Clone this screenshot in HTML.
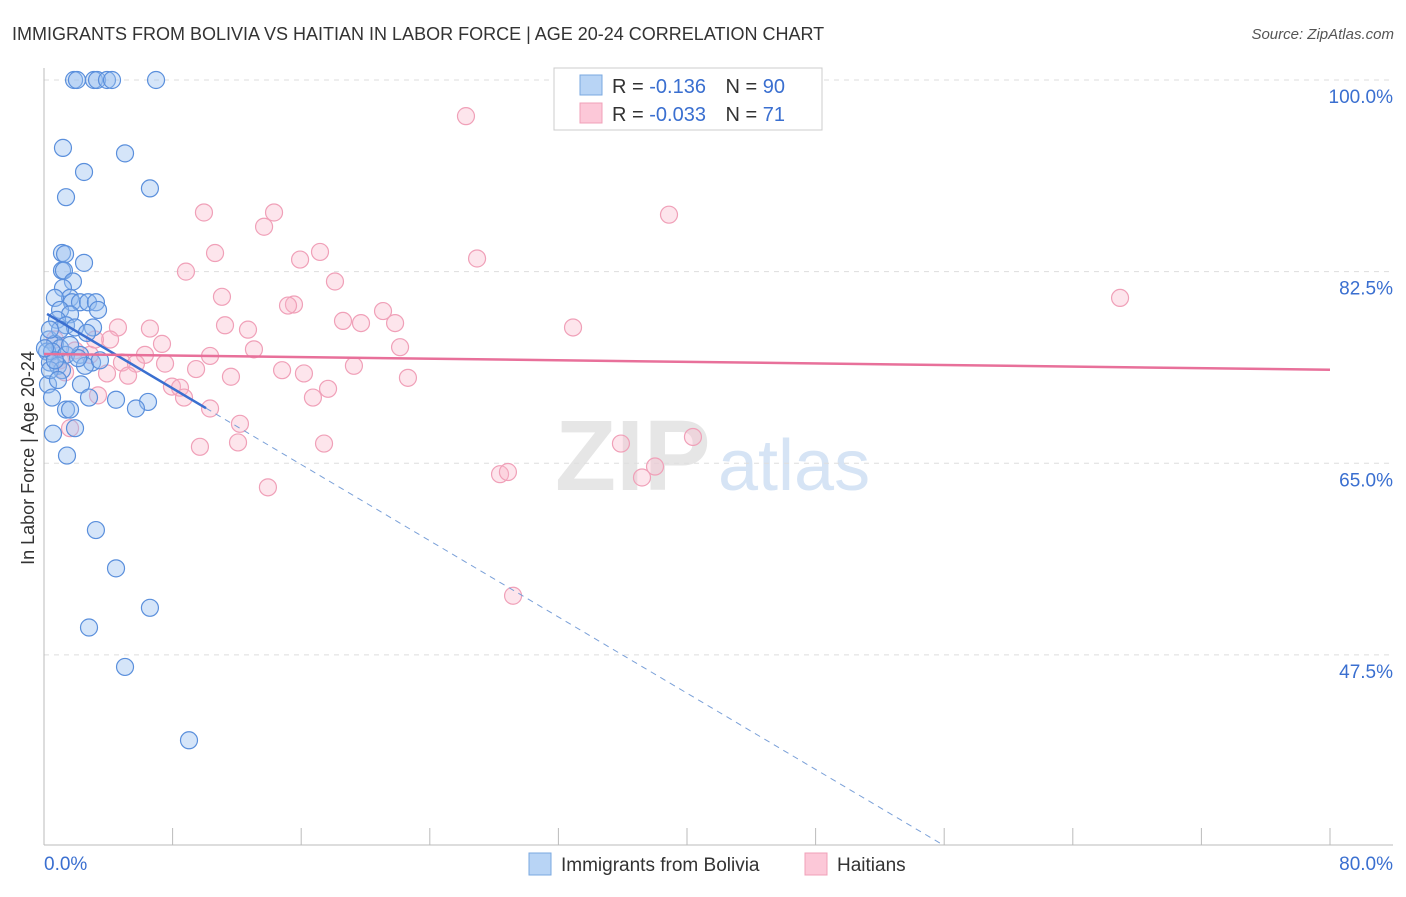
<!DOCTYPE html>
<html><head><meta charset="utf-8"><style>
body{margin:0;background:#fff;font-family:"Liberation Sans",sans-serif}
svg text{font-family:"Liberation Sans",sans-serif}
</style></head><body>
<svg id="c" width="1406" height="892">
<text x="12" y="40" font-size="18" fill="#333">IMMIGRANTS FROM BOLIVIA VS HAITIAN IN LABOR FORCE | AGE 20-24 CORRELATION CHART</text>
<text x="1394" y="39" font-size="15" fill="#555" text-anchor="end" font-style="italic">Source: ZipAtlas.com</text>
<text x="34" y="458" font-size="18" fill="#333" text-anchor="middle" transform="rotate(-90 34 458)">In Labor Force | Age 20-24</text>
<g><text x="555" y="490" font-size="100" fill="#e6e6e6" font-family="Liberation Serif" font-weight="bold">ZIP</text><text x="718" y="490" font-size="72" fill="#d6e4f5">atlas</text></g>
<g id="grid"></g><g id="pts"></g><g id="lines"></g>
<g>
<rect x="554" y="68" width="268" height="62" fill="#fff" stroke="#ccc"/>
<rect x="580" y="75" width="22" height="20" fill="#b8d4f5" stroke="#7aa8e0"/>
<rect x="580" y="103" width="22" height="20" fill="#fcc8d8" stroke="#f0a0b8"/>
<text x="612" y="93" font-size="20" fill="#333">R = <tspan fill="#3a6fd0"> -0.136</tspan>   <tspan fill="#333" dx="14">N = </tspan><tspan fill="#3a6fd0">90</tspan></text>
<text x="612" y="121" font-size="20" fill="#333">R = <tspan fill="#3a6fd0">-0.033</tspan>   <tspan fill="#333" dx="14">N = </tspan><tspan fill="#3a6fd0"> 71</tspan></text>
</g>
<g>
<rect x="529" y="853" width="22" height="22" fill="#b8d4f5" stroke="#7aa8e0"/><text x="561" y="871" font-size="19" fill="#333">Immigrants from Bolivia</text>
<rect x="805" y="853" width="22" height="22" fill="#fcc8d8" stroke="#f0a0b8"/><text x="837" y="871" font-size="19" fill="#333">Haitians</text>
</g>
<text x="44" y="870" font-size="19" fill="#3a6fd0">0.0%</text>
<text x="1393" y="870" font-size="19" fill="#3a6fd0" text-anchor="end">80.0%</text>
</svg>
<script>
const blueX=[1.87,2.05,3.11,3.30,3.92,4.23,6.97,1.18,5.04,2.49,6.59,1.37,1.12,1.31,2.49,1.12,1.24,1.80,1.18,1.62,0.68,1.74,2.24,2.74,3.23,3.36,1.00,1.62,0.81,1.37,1.93,3.05,2.67,0.31,0.68,1.00,0.19,0.50,1.37,2.24,2.99,0.37,0.87,2.55,1.12,0.25,2.30,2.80,4.48,6.47,0.50,1.37,1.62,5.72,1.93,0.56,1.43,3.23,4.48,6.59,2.80,5.04,9.02,0.37,0.68,0.06,1.00,2.12,3.48,1.62,0.37,0.87];
const blueY=[100,100,100,100,100,100,100,93.8,93.3,91.6,90.1,89.3,84.2,84.1,83.3,82.6,82.6,81.6,81.0,80.1,80.1,79.7,79.7,79.7,79.7,79.0,79.0,78.6,78.1,77.6,77.4,77.4,76.9,76.3,75.9,75.5,75.2,75.2,74.9,74.9,74.2,74.2,73.9,73.9,73.5,72.2,72.2,71.0,70.8,70.6,71.0,69.9,69.9,70.0,68.2,67.7,65.7,58.9,55.4,51.8,50.0,46.4,39.7,73.5,74.4,75.5,77.2,74.6,74.4,75.8,77.2,72.6];
const pinkX=[26.25,9.95,14.31,38.88,13.69,10.64,17.17,15.93,26.94,8.83,18.10,11.07,15.55,15.18,66.94,21.09,18.60,19.72,21.84,32.91,11.26,4.60,6.59,12.69,7.34,13.06,22.15,2.86,6.28,10.33,4.85,5.72,7.53,9.46,5.23,14.81,16.17,19.28,3.92,11.63,22.64,7.96,8.46,8.71,17.67,16.73,3.36,10.33,12.19,1.62,12.07,17.42,9.70,35.89,40.37,38.01,37.20,28.37,28.86,13.93,29.18,1.0,1.93,0.68,4.11,3.17,1.31];
const pinkY=[96.7,87.9,87.9,87.7,86.6,84.2,84.3,83.6,83.7,82.5,81.6,80.2,79.5,79.4,80.1,78.9,78.0,77.8,77.8,77.4,77.6,77.4,77.3,77.2,75.9,75.4,75.6,74.9,74.9,74.8,74.2,74.1,74.1,73.6,73.0,73.5,73.2,73.9,73.2,72.9,72.8,72.0,71.9,71.0,71.8,71.0,71.2,70.0,68.6,68.2,66.9,66.8,66.5,66.8,67.4,64.7,63.7,64.0,64.2,62.8,52.9,74.4,75.3,76.3,76.3,76.3,73.3];
const blueFit=[78.8,-0.87], pinkFit=[74.98,-0.018];
const yTicks=[100,82.5,65,47.5];
const xTicks=[0,8,16,24,32,40,48,56,64,72,80];
const NS='http://www.w3.org/2000/svg';
const X=v=>44+v/80*1286, Y=v=>80+(100-v)*10.95;
function mk(p,t,a){const e=document.createElementNS(NS,t);for(const k in a)e.setAttribute(k,a[k]);p.appendChild(e);return e;}
const g=document.getElementById('grid');
yTicks.forEach(t=>{const l=mk(g,'line',{x1:44,x2:1393,y1:Y(t),y2:Y(t),stroke:'#ddd','stroke-dasharray':'5,5'});


const tx=mk(g,'text',{x:1393,y:Y(t)+23,'font-size':19,fill:'#3a6fd0','text-anchor':'end'});tx.textContent=t.toFixed(1)+'%';

});
mk(g,'line',{x1:44,x2:44,y1:68,y2:845,stroke:'#bbb'});
mk(g,'line',{x1:44,x2:1393,y1:845,y2:845,stroke:'#bbb'});
xTicks.forEach(t=>{const l=mk(g,'line',{x1:X(t),x2:X(t),y1:828,y2:845,stroke:'#bbb'});

});
const pg=document.getElementById('pts');
pinkX.forEach((x,i)=>{const c=mk(pg,'circle',{cx:X(x),cy:Y(pinkY[i]),r:8.5,fill:'rgba(248,180,200,0.35)',stroke:'#f0a0b8','stroke-width':1.2});

});
blueX.forEach((x,i)=>{const c=mk(pg,'circle',{cx:X(x),cy:Y(blueY[i]),r:8.5,fill:'rgba(150,190,240,0.4)',stroke:'#5a8fdc','stroke-width':1.2});

});
const lg=document.getElementById('lines');
const bl=mk(lg,'line',{x1:X(0.19),y1:Y(blueFit[0]+blueFit[1]*0.19),x2:X(10.08),y2:Y(blueFit[0]+blueFit[1]*10.08),stroke:'#3a6fd0','stroke-width':2.5});


const xe=(30.1-blueFit[0])/blueFit[1];
const bd=mk(lg,'line',{x1:X(10.08),y1:Y(blueFit[0]+blueFit[1]*10.08),x2:X(xe),y2:Y(30.1),stroke:'#7aa0d8','stroke-width':1,'stroke-dasharray':'6,5'});


const pl=mk(lg,'line',{x1:X(0),y1:Y(pinkFit[0]),x2:X(80),y2:Y(pinkFit[0]+pinkFit[1]*80),stroke:'#e8709a','stroke-width':2.5});


</script>
</body></html>
